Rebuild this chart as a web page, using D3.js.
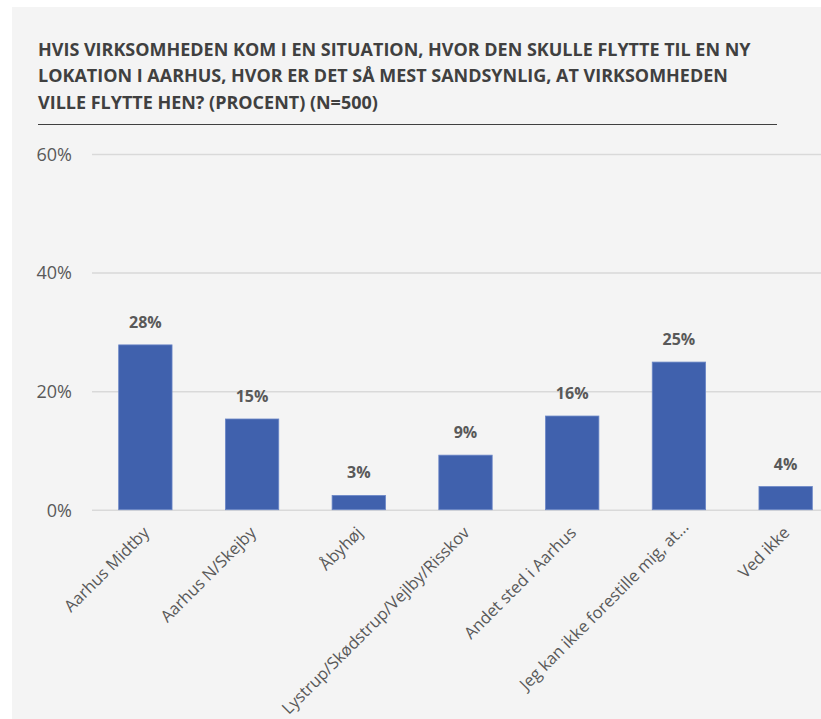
<!DOCTYPE html>
<html>
<head>
<meta charset="utf-8">
<script src="https://cdn.jsdelivr.net/npm/d3@7"></script>
<style>
  html, body { margin: 0; padding: 0; background: #ffffff; }
  svg { display: block; }
</style>
</head>
<body>
<svg id="chart" width="821" height="719"></svg>
<script>
// ---- data ----
const titleLines = [
  "HVIS VIRKSOMHEDEN KOM I EN SITUATION, HVOR DEN SKULLE FLYTTE TIL EN NY",
  "LOKATION I AARHUS, HVOR ER DET SÅ MEST SANDSYNLIG, AT VIRKSOMHEDEN",
  "VILLE FLYTTE HEN? (PROCENT) (N=500)"
];
const categories = [
  "Aarhus Midtby",
  "Aarhus N/Skejby",
  "Åbyhøj",
  "Lystrup/Skødstrup/Vejlby/Risskov",
  "Andet sted i Aarhus",
  "Jeg kan ikke forestille mig, at...",
  "Ved ikke"
];
const values = [0.278, 0.153, 0.024, 0.092, 0.158, 0.249, 0.039];
const valueLabels = ["28%", "15%", "3%", "9%", "16%", "25%", "4%"];
const yTicks = [0, 0.2, 0.4, 0.6];

// ---- layout ----
const svg = d3.select("#chart");
const FONT = "'Open Sans', 'Noto Sans', sans-serif";

svg.append("rect")
  .attr("x", 12).attr("y", 7)
  .attr("width", 821 - 12).attr("height", 719 - 7)
  .attr("fill", "#f4f4f4");

// title: fit first line to its width in the reference, same size for all lines
const title = svg.append("g");
const titleTexts = titleLines.map((t, i) => title.append("text")
  .attr("x", 38)
  .attr("y", 56 + i * 26.3)
  .attr("fill", "#404040")
  .style("font-family", FONT)
  .style("font-weight", "bold")
  .style("font-size", "20px")
  .text(t));
const w0 = titleTexts[0].node().getComputedTextLength();
const titleSize = 20 * 713 / w0;
titleTexts.forEach(t => t.style("font-size", titleSize + "px"));

svg.append("line")
  .attr("x1", 38).attr("x2", 777)
  .attr("y1", 124.5).attr("y2", 124.5)
  .attr("stroke", "#404040").attr("stroke-width", 1);

const x = d3.scaleBand()
  .domain(categories)
  .range([92, 839])
  .paddingInner(0.5)
  .paddingOuter(0.25);

const y = d3.scaleLinear()
  .domain([0, 0.6])
  .range([509.7, 154]);

// gridlines + y labels
const yAxis = d3.axisLeft(y)
  .tickValues(yTicks)
  .tickSize(-(839 - 92))
  .tickFormat(d3.format(".0%"));

const gy = svg.append("g")
  .attr("transform", "translate(92,0)")
  .call(yAxis);
gy.select(".domain").remove();
gy.selectAll(".tick line")
  .attr("stroke", "#d9d9d9")
  .attr("stroke-width", 1.5);
gy.selectAll(".tick text")
  .attr("x", -20)
  .attr("dy", "0.35em")
  .attr("fill", "#595959")
  .style("font-family", FONT)
  .style("font-size", "18px");

// bars
svg.append("g")
  .selectAll("rect")
  .data(values)
  .join("rect")
  .attr("x", (d, i) => x(categories[i]))
  .attr("y", d => y(d))
  .attr("width", x.bandwidth())
  .attr("height", d => y(0) - y(d))
  .attr("fill", "#4061ad")
  .attr("stroke", "#6a86c6")
  .attr("stroke-width", 0.8);

// value labels
svg.append("g")
  .selectAll("text")
  .data(values)
  .join("text")
  .attr("x", (d, i) => x(categories[i]) + x.bandwidth() / 2)
  .attr("y", d => y(d) - 17)
  .attr("text-anchor", "middle")
  .attr("fill", "#595959")
  .style("font-family", FONT)
  .style("font-weight", "bold")
  .style("font-size", "16px")
  .text((d, i) => valueLabels[i]);

// category labels
const xAxis = d3.axisBottom(x).tickSize(0);
const gx = svg.append("g")
  .attr("transform", `translate(0,${y(0)})`)
  .call(xAxis);
gx.select(".domain").remove();
gx.selectAll(".tick text")
  .attr("y", 0)
  .attr("dy", 0)
  .attr("text-anchor", "end")
  .attr("fill", "#595959")
  .style("font-family", FONT)
  .style("font-size", "16.5px")
  .attr("transform", d => {
    const shift = d.endsWith("...") ? 8 : 0;
    return `translate(5,24) rotate(-45) translate(${shift},0)`;
  });
</script>
</body>
</html>
